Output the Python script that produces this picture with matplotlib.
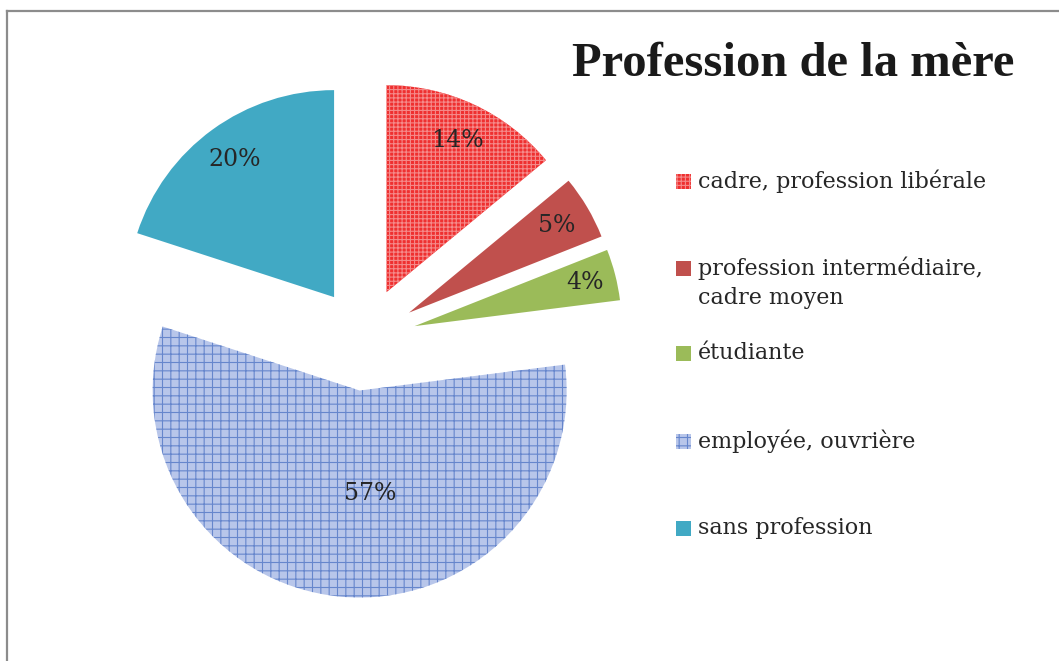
import numpy as np
import matplotlib
matplotlib.use("Agg")
import matplotlib.pyplot as plt
from matplotlib.patches import Rectangle
from matplotlib.lines import Line2D

# données
categories = ["cadre, profession libérale",
              "profession intermédiaire,\ncadre moyen",
              "étudiante",
              "employée, ouvrière",
              "sans profession"]
values = [14, 5, 4, 57, 20]
pct_labels = ["14%", "5%", "4%", "57%", "20%"]

face_cols = ["#ef3030", "#c0504d", "#9bbb59", "#b8c6ea", "#41a9c4"]
hatch_cols = ["#f58a8a", "#c0504d", "#9bbb59", "#6686cc", "#41a9c4"]
hatches = ["++++", None, None, "++", None]
lab_dist = [0.81, 0.83, 0.85, 0.5, 0.82]
lab_shift = [0, 0, 0, 11, 0]  # degrés

plt.rcParams["hatch.linewidth"] = 0.8

W, H = 1059, 661
fig = plt.figure(figsize=(W / 100, H / 100), dpi=100)

def fx(x):
    return x / W

def fy(y):
    return 1 - y / H

# pie centre ~ (364.5, 339) px, radius 207 px
cx, cy, R = 364.5, 339, 207
half = 300
ax = fig.add_axes([fx(cx - half), fy(cy + half), 2 * half / W, 2 * half / H])

wedges, _ = ax.pie(values, explode=[0.25] * 5, startangle=90, counterclock=False,
                   radius=1, wedgeprops=dict(linewidth=0))
for w, fc, hc, h in zip(wedges, face_cols, hatch_cols, hatches):
    w.set_facecolor(fc)
    w.set_edgecolor(hc)
    w.set_linewidth(0)
    if h:
        w.set_hatch(h)

ax.set_xlim(-half / R, half / R)
ax.set_ylim(-half / R, half / R)

lab_font = "DejaVu Serif"
for w, lab, d, s in zip(wedges, pct_labels, lab_dist, lab_shift):
    th = np.deg2rad((w.theta1 + w.theta2) / 2 + s)
    x0, y0 = w.center
    ax.text(x0 + d * w.r * np.cos(th), y0 + d * w.r * np.sin(th), lab,
            ha="center", va="center", fontsize=17, family=lab_font, color="#262626")

# titre
fig.text(fx(793), fy(76), "Profession de la mère", ha="center", va="baseline",
         fontsize=35, fontweight="bold", family="Liberation Serif", color="#1a1a1a")

# légende
leg_y = [181, 268, 353, 441, 528]
for y, lab, fc, hc, h in zip(leg_y, categories, face_cols, hatch_cols, hatches):
    r = Rectangle((fx(676), fy(y + 7.5)), 15 / W, 15 / H, transform=fig.transFigure,
                  facecolor=fc, edgecolor=hc, linewidth=0, hatch=h)
    fig.add_artist(r)
    if "\n" in lab:
        fig.text(fx(698), fy(y - 12), lab, ha="left", va="top",
                 fontsize=16, family=lab_font, color="#262626", linespacing=1.45)
    else:
        fig.text(fx(698), fy(y), lab, ha="left", va="center",
                 fontsize=16, family=lab_font, color="#262626")

# cadre
fig.add_artist(Line2D([fx(7), 1], [fy(11), fy(11)], color="#8c8c8c", lw=1.6,
                      transform=fig.transFigure))
fig.add_artist(Line2D([fx(7), fx(7)], [fy(11), 0], color="#8c8c8c", lw=1.6,
                      transform=fig.transFigure))

fig.savefig("out.png", dpi=100)
